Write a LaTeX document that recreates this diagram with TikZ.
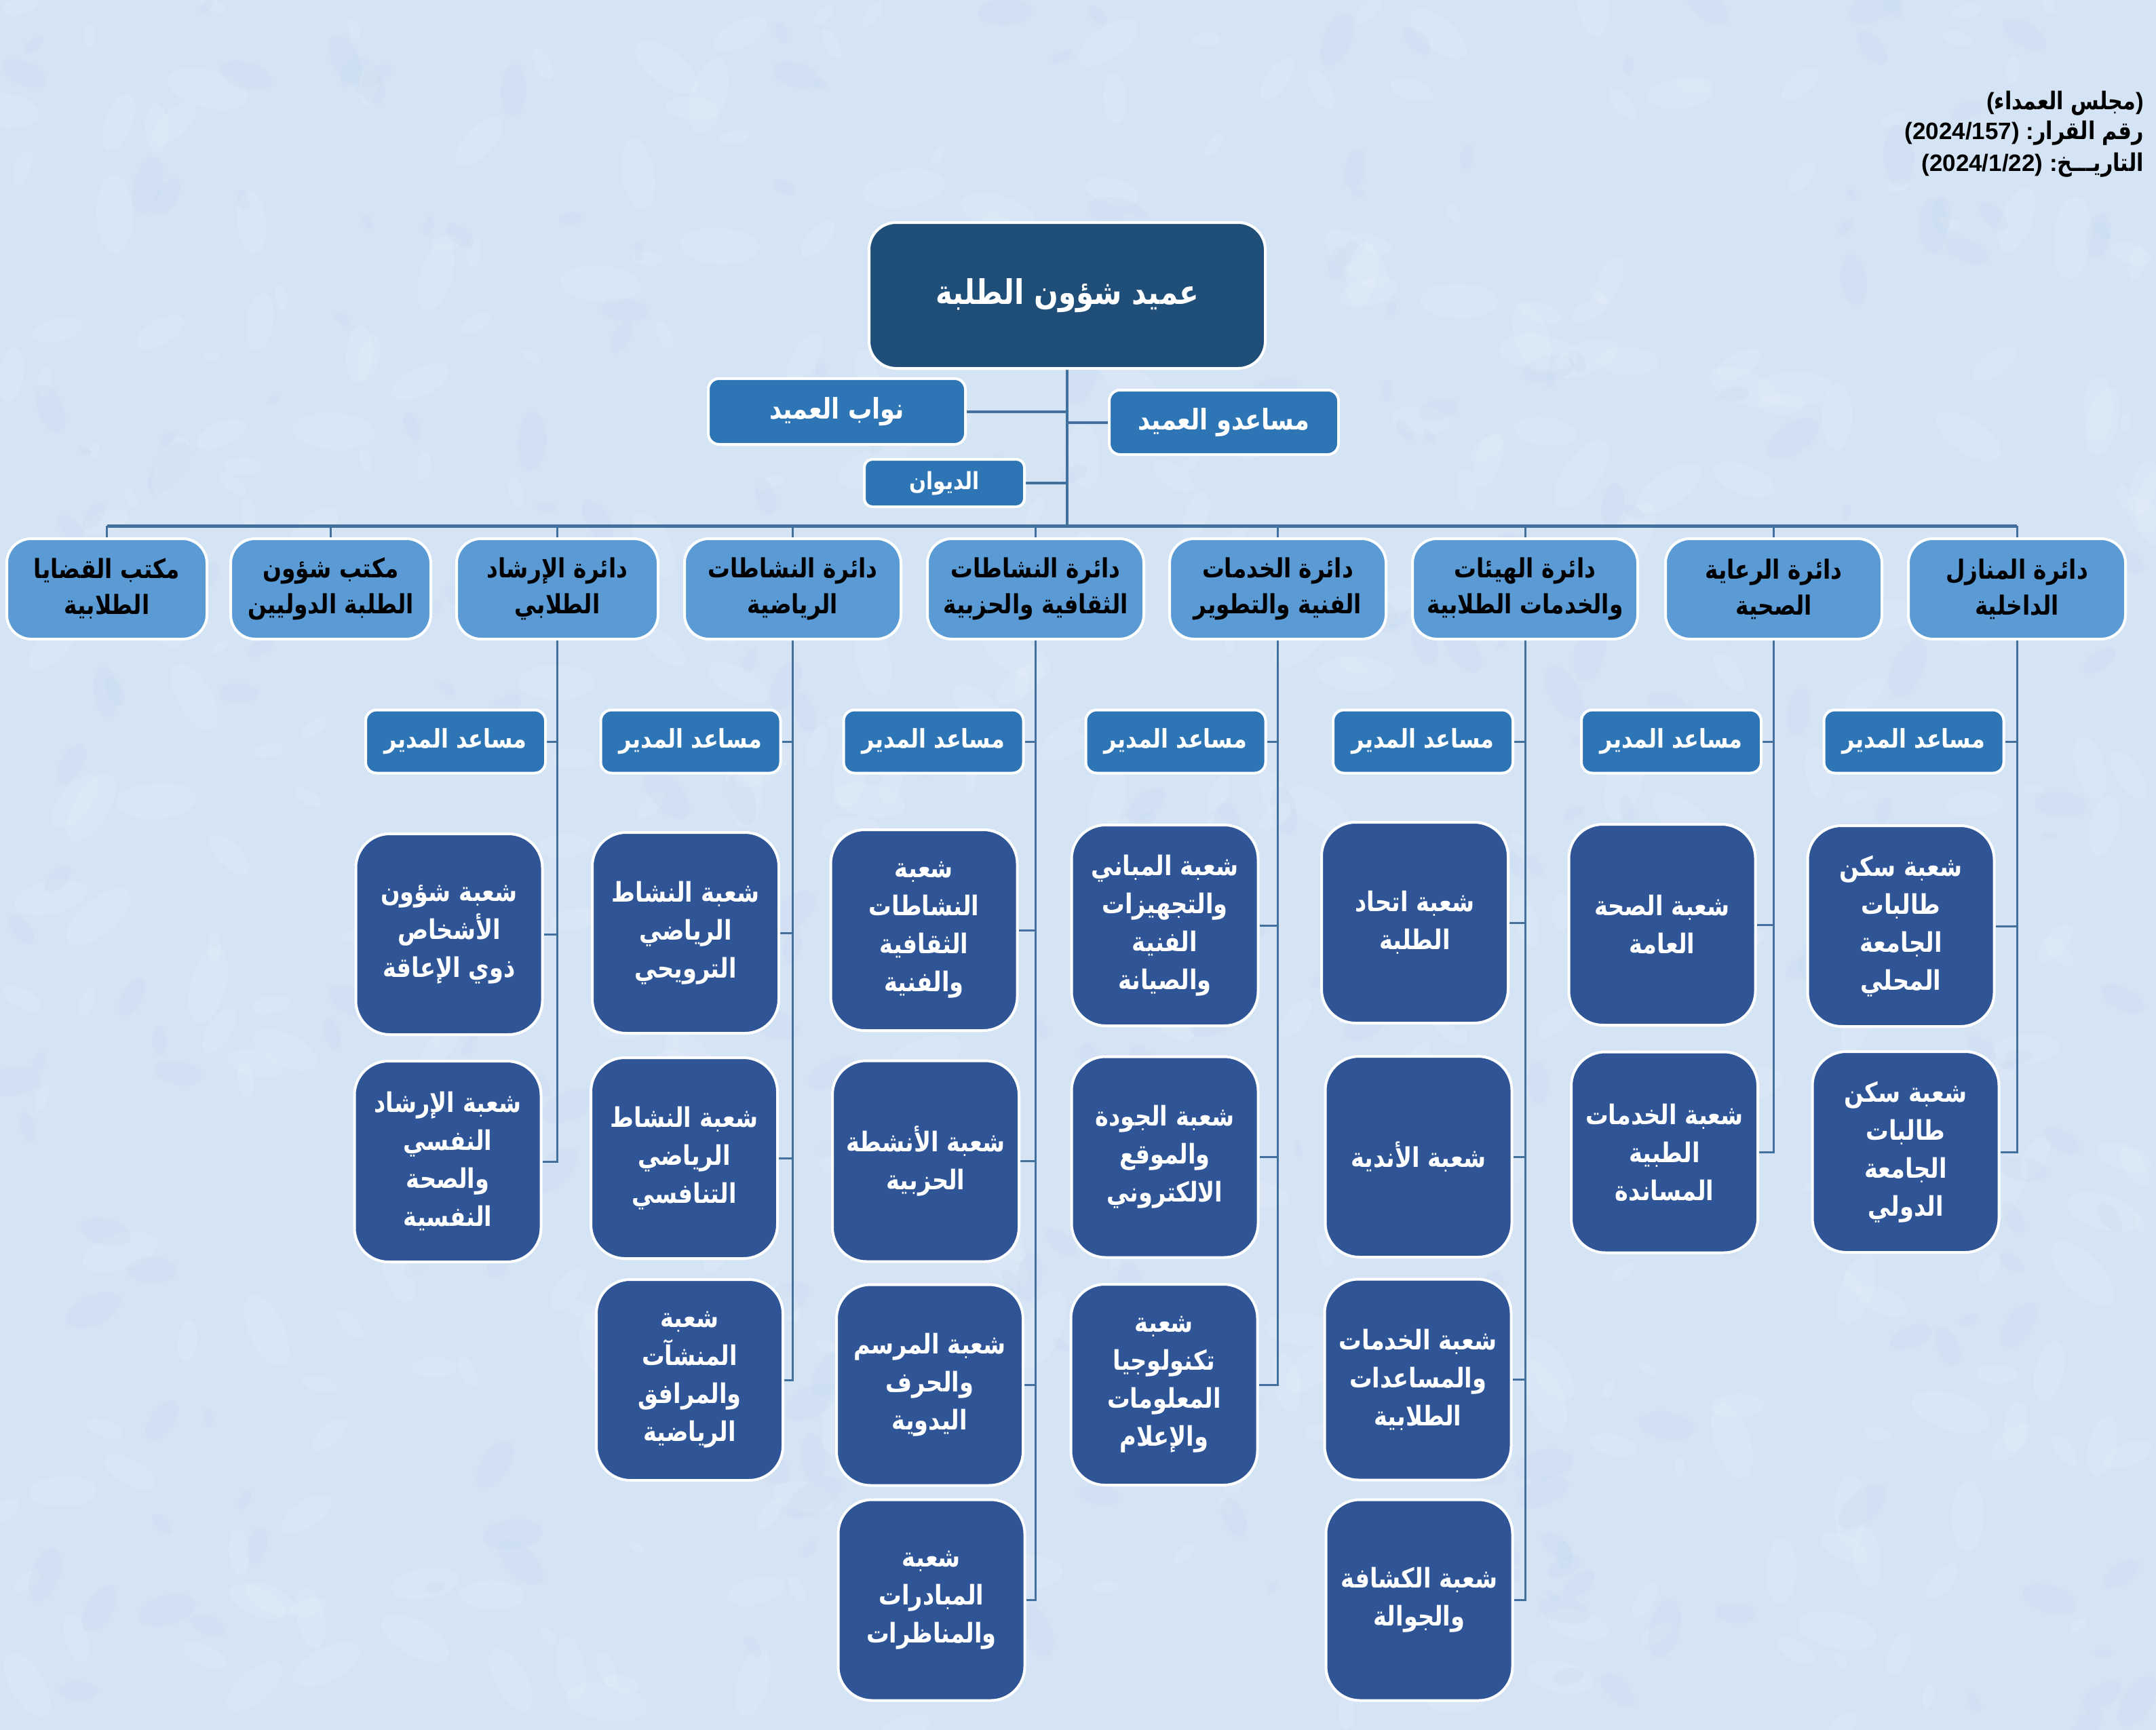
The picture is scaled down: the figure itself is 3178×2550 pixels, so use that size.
\documentclass[tikz,border=0pt]{standalone}
\usepackage{fontspec}
\setmainfont{Liberation Sans}
\newfontfamily\arfont[Script=Arabic, FakeStretch=0.84]{DejaVu Sans}
\TeXXeTstate=1
\newcommand\ar[1]{{\arfont\beginR #1\endR}}
\definecolor{bgc}{RGB}{212,228,245}
\definecolor{bgd}{RGB}{185,208,234}
\definecolor{deanc}{RGB}{31,78,121}
\definecolor{midc}{RGB}{46,117,182}
\definecolor{deptc}{RGB}{91,155,213}
\definecolor{secc}{RGB}{47,85,151}
\definecolor{linec}{RGB}{65,113,156}
\pgfdeclarelayer{bg}
\pgfsetlayers{bg,main}
\tikzset{
  box/.style={draw=white, line width=4pt, align=center, inner sep=0pt, text=white},
  dean/.style={box, fill=deanc, rounded corners=40pt, minimum width=584pt, minimum height=215pt, font=\bfseries\fontsize{50}{60}\selectfont},
  mid/.style={box, fill=midc, rounded corners=16pt, font=\bfseries\fontsize{42}{50}\selectfont},
  asst/.style={mid, minimum width=265pt, minimum height=93pt, font=\bfseries\fontsize{38}{46}\selectfont},
  dept/.style={box, fill=deptc, rounded corners=36pt, minimum height=148pt, text=black, font=\bfseries\fontsize{39}{53}\selectfont},
  sec/.style={box, fill=secc, rounded corners=50pt, minimum width=275pt, minimum height=296pt, font=\bfseries\fontsize{40}{56}\selectfont},
  hdr/.style={anchor=base east, inner sep=0pt, text=black, font=\bfseries\fontsize{35}{38}\selectfont},
  conn/.style={draw=linec, line width=3pt},
  trunk/.style={draw=linec, line width=4pt},
  bus/.style={draw=linec, line width=5pt},
}
\begin{document}
\begin{tikzpicture}[x=1pt, y=-1pt]
\useasboundingbox (0,0) rectangle (3178,2550);
% header
\node[hdr] (h1) at (3160,162) {(\ar{\fontsize{36}{38}\selectfont مجلس العمداء})};
\node[hdr] (h2) at (3160,206) {(2024/157) :\ar{\fontsize{36}{38}\selectfont رقم القرار}};
\node[hdr] (h3) at (3160,252) {(2024/1/22) :\ar{\fontsize{36}{38}\selectfont التاريـــخ}};
% top
\node[dean] (dean) at (1573,435.5) {\ar{عميد شؤون الطلبة}};
\node[mid, minimum width=379pt, minimum height=97pt] (navab) at (1233.5,606.5) {\ar{نواب العميد}};
\node[mid, minimum width=338pt, minimum height=95pt] (mosaed) at (1804,622.5) {\ar{مساعدو العميد}};
\node[mid, minimum width=236pt, minimum height=70pt, rounded corners=12pt, font=\bfseries\fontsize{35}{40}\selectfont] (diwan) at (1392,712) {\ar{الديوان}};
\coordinate (busL) at (0,775);
% departments
\node[dept, minimum width=295pt] (D1) at (157.5,868) {\ar{مكتب القضايا}\\\ar{الطلابية}};
\node[dept, minimum width=295pt] (D2) at (487.5,868) {\ar{مكتب شؤون}\\\ar{الطلبة الدوليين}};
\node[dept, minimum width=297pt] (D3) at (821.5,868) {\ar{دائرة الإرشاد}\\\ar{الطلابي}};
\node[dept, minimum width=319pt] (D4) at (1168.5,868) {\ar{دائرة النشاطات}\\\ar{الرياضية}};
\node[dept, minimum width=319pt] (D5) at (1526.5,868) {\ar{دائرة النشاطات}\\\ar{الثقافية والحزبية}};
\node[dept, minimum width=319pt] (D6) at (1883.5,868) {\ar{دائرة الخدمات}\\\ar{الفنية والتطوير}};
\node[dept, minimum width=332pt] (D7) at (2248,868) {\ar{دائرة الهيئات}\\\ar{والخدمات الطلابية}};
\node[dept, minimum width=319pt] (D8) at (2614.5,868) {\ar{دائرة الرعاية}\\\ar{الصحية}};
\node[dept, minimum width=320pt] (D9) at (2973,868) {\ar{دائرة المنازل}\\\ar{الداخلية}};
% assistants
\node[asst] (A3) at (671.5,1093) {\ar{مساعد المدير}};
\node[asst] (A4) at (1018,1093) {\ar{مساعد المدير}};
\node[asst] (A5) at (1376,1093) {\ar{مساعد المدير}};
\node[asst] (A6) at (1733,1093) {\ar{مساعد المدير}};
\node[asst] (A7) at (2097.5,1093) {\ar{مساعد المدير}};
\node[asst] (A8) at (2463.5,1093) {\ar{مساعد المدير}};
\node[asst] (A9) at (2821,1093) {\ar{مساعد المدير}};
% sections
\node[sec] (S31) at (662,1377) {\ar{شعبة شؤون}\\\ar{الأشخاص}\\\ar{ذوي الإعاقة}};
\node[sec] (S32) at (660,1712) {\ar{شعبة الإرشاد}\\\ar{النفسي}\\\ar{والصحة}\\\ar{النفسية}};
\node[sec] (S41) at (1010.5,1375) {\ar{شعبة النشاط}\\\ar{الرياضي}\\\ar{الترويحي}};
\node[sec] (S42) at (1008.5,1707) {\ar{شعبة النشاط}\\\ar{الرياضي}\\\ar{التنافسي}};
\node[sec] (S43) at (1016.5,2034) {\ar{شعبة}\\\ar{المنشآت}\\\ar{والمرافق}\\\ar{الرياضية}};
\node[sec] (S51) at (1362,1371) {\ar{شعبة}\\\ar{النشاطات}\\\ar{الثقافية}\\\ar{والفنية}};
\node[sec] (S52) at (1364.5,1711.5) {\ar{شعبة الأنشطة}\\\ar{الحزبية}};
\node[sec] (S53) at (1370.5,2041.5) {\ar{شعبة المرسم}\\\ar{والحرف}\\\ar{اليدوية}};
\node[sec] (S54) at (1373,2358.5) {\ar{شعبة}\\\ar{المبادرات}\\\ar{والمناظرات}};
\node[sec] (S61) at (1717,1364) {\ar{شعبة المباني}\\\ar{والتجهيزات}\\\ar{الفنية}\\\ar{والصيانة}};
\node[sec] (S62) at (1717,1705.5) {\ar{شعبة الجودة}\\\ar{والموقع}\\\ar{الالكتروني}};
\node[sec] (S63) at (1716,2041) {\ar{شعبة}\\\ar{تكنولوجيا}\\\ar{المعلومات}\\\ar{والإعلام}};
\node[sec] (S71) at (2085.5,1360) {\ar{شعبة اتحاد}\\\ar{الطلبة}};
\node[sec] (S72) at (2091,1705) {\ar{شعبة الأندية}};
\node[sec] (S73) at (2090,2033.5) {\ar{شعبة الخدمات}\\\ar{والمساعدات}\\\ar{الطلابية}};
\node[sec] (S74) at (2092,2358.5) {\ar{شعبة الكشافة}\\\ar{والجوالة}};
\node[sec] (S81) at (2450,1363) {\ar{شعبة الصحة}\\\ar{العامة}};
\node[sec] (S82) at (2453.5,1698.5) {\ar{شعبة الخدمات}\\\ar{الطبية}\\\ar{المساندة}};
\node[sec] (S91) at (2802,1365) {\ar{شعبة سكن}\\\ar{طالبات}\\\ar{الجامعة}\\\ar{المحلي}};
\node[sec] (S92) at (2809,1698) {\ar{شعبة سكن}\\\ar{طالبات}\\\ar{الجامعة}\\\ar{الدولي}};
\begin{pgfonlayer}{bg}
\fill[bgc] (0,0) rectangle (3178,2550);
\pgfmathsetseed{11}
\foreach \i in {1,...,450} {
  \pgfmathsetmacro\xx{rnd*3178}
  \pgfmathsetmacro\yy{rnd*2550}
  \pgfmathsetmacro\rr{6+rnd*22}
  \pgfmathsetmacro\aa{rnd*180}
  \fill[white, opacity=0.10, rotate around={\aa:(\xx,\yy)}] (\xx,\yy) ellipse ({\rr*2.2} and {\rr});
}
\foreach \i in {1,...,300} {
  \pgfmathsetmacro\xx{rnd*3178}
  \pgfmathsetmacro\yy{rnd*2550}
  \pgfmathsetmacro\rr{5+rnd*18}
  \pgfmathsetmacro\aa{rnd*180}
  \fill[bgd, opacity=0.10, rotate around={\aa:(\xx,\yy)}] (\xx,\yy) ellipse ({\rr*2} and {\rr});
}
\draw[trunk] (dean.south) -- (dean.south |- busL);
\draw[trunk] (navab.east) -- (navab.east -| dean.south);
\draw[trunk] (mosaed.west) -- (mosaed.west -| dean.south);
\draw[trunk] (diwan.east) -- (diwan.east -| dean.south);
\draw[bus] (D1.north |- busL) -- (D9.north |- busL);
\foreach \d in {D1,D2,D3,D4,D5,D6,D7,D8,D9} \draw[conn] (\d.north |- busL) -- (\d.north);
% column 3
\draw[conn] (D3.south) |- (S32.east);
\foreach \n in {A3,S31} \draw[conn] (\n.east) -- (\n.east -| D3.south);
% column 4
\draw[conn] (D4.south) |- (S43.east);
\foreach \n in {A4,S41,S42} \draw[conn] (\n.east) -- (\n.east -| D4.south);
% column 5
\draw[conn] (D5.south) |- (S54.east);
\foreach \n in {A5,S51,S52,S53} \draw[conn] (\n.east) -- (\n.east -| D5.south);
% column 6
\draw[conn] (D6.south) |- (S63.east);
\foreach \n in {A6,S61,S62} \draw[conn] (\n.east) -- (\n.east -| D6.south);
% column 7
\draw[conn] (D7.south) |- (S74.east);
\foreach \n in {A7,S71,S72,S73} \draw[conn] (\n.east) -- (\n.east -| D7.south);
% column 8
\draw[conn] (D8.south) |- (S82.east);
\foreach \n in {A8,S81} \draw[conn] (\n.east) -- (\n.east -| D8.south);
% column 9
\draw[conn] (D9.south) |- (S92.east);
\foreach \n in {A9,S91} \draw[conn] (\n.east) -- (\n.east -| D9.south);
\end{pgfonlayer}
\end{tikzpicture}
\end{document}
